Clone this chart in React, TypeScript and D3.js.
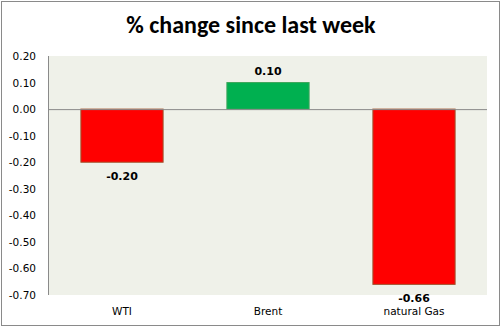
import React from "react";
import * as d3 from "d3";

const categories = ["WTI", "Brent", "natural Gas"];
const values = [-0.2, 0.1, -0.66];
const tickValues = [0.2, 0.1, 0.0, -0.1, -0.2, -0.3, -0.4, -0.5, -0.6, -0.7];
const title = "% change since last week";

const W = 502;
const H = 328;
const left = 49;
const right = 487;
const top = 56;
const bottom = 295;

export default function App() {
  const x = d3.scaleBand<string>().domain(categories).range([left, right]).paddingInner(0.43).paddingOuter(0.215);
  const y = d3.scaleLinear().domain([-0.7, 0.2]).range([bottom, top]);
  const f = d3.format(".2f");
  const fmt = (v: number) => f(v).replace("\u2212", "-");
  const font = "Verdana, 'DejaVu Sans', sans-serif";
  return (
    <svg width={W} height={H} style={{ position: "absolute", left: 0, top: 0 }}>
      <rect x={0} y={0} width={W} height={H} fill="#fff" />
      <rect x={1.5} y={1.5} width={498} height={324} fill="#fff" stroke="#8a8a8a" strokeWidth={1} />
      <text x={251} y={33} textAnchor="middle" fontFamily="Carlito, 'Open Sans', sans-serif" fontWeight="bold" fontSize={24} fill="#000">{title}</text>
      <rect x={left} y={top} width={right - left} height={bottom - top} fill="#EFF1E9" />
      <line x1={left - 0.5} x2={left - 0.5} y1={top} y2={bottom} stroke="#8a8a8a" />
      {tickValues.map((t) => (
        <text key={t} x={36} y={y(t) + 4} textAnchor="end" fontFamily={font} fontSize={10.5} fill="#000">{fmt(t)}</text>
      ))}
      {categories.map((c, i) => {
        const v = values[i];
        const y0 = y(0);
        const y1 = y(v);
        const neg = v < 0;
        return (
          <g key={c}>
            <rect x={x(c)! + 0.5} y={Math.min(y0, y1)} width={x.bandwidth() - 1} height={Math.abs(y1 - y0)}
              fill={neg ? "#FF0000" : "#00B050"} stroke={neg ? "#A0522D" : "#3CA65A"} strokeWidth={1} />
            <text x={x(c)! + x.bandwidth() / 2} y={neg ? y1 + 18 : y1 - 8} textAnchor="middle" fontFamily={font}
              fontWeight="bold" fontSize={11} fill="#000">{fmt(v)}</text>
            <text x={x(c)! + x.bandwidth() / 2} y={315} textAnchor="middle" fontFamily={font} fontSize={10.5} fill="#000">{c}</text>
          </g>
        );
      })}
      <line x1={left} x2={right} y1={y(0) + 0.5} y2={y(0) + 0.5} stroke="#8a8a8a" />
    </svg>
  );
}
